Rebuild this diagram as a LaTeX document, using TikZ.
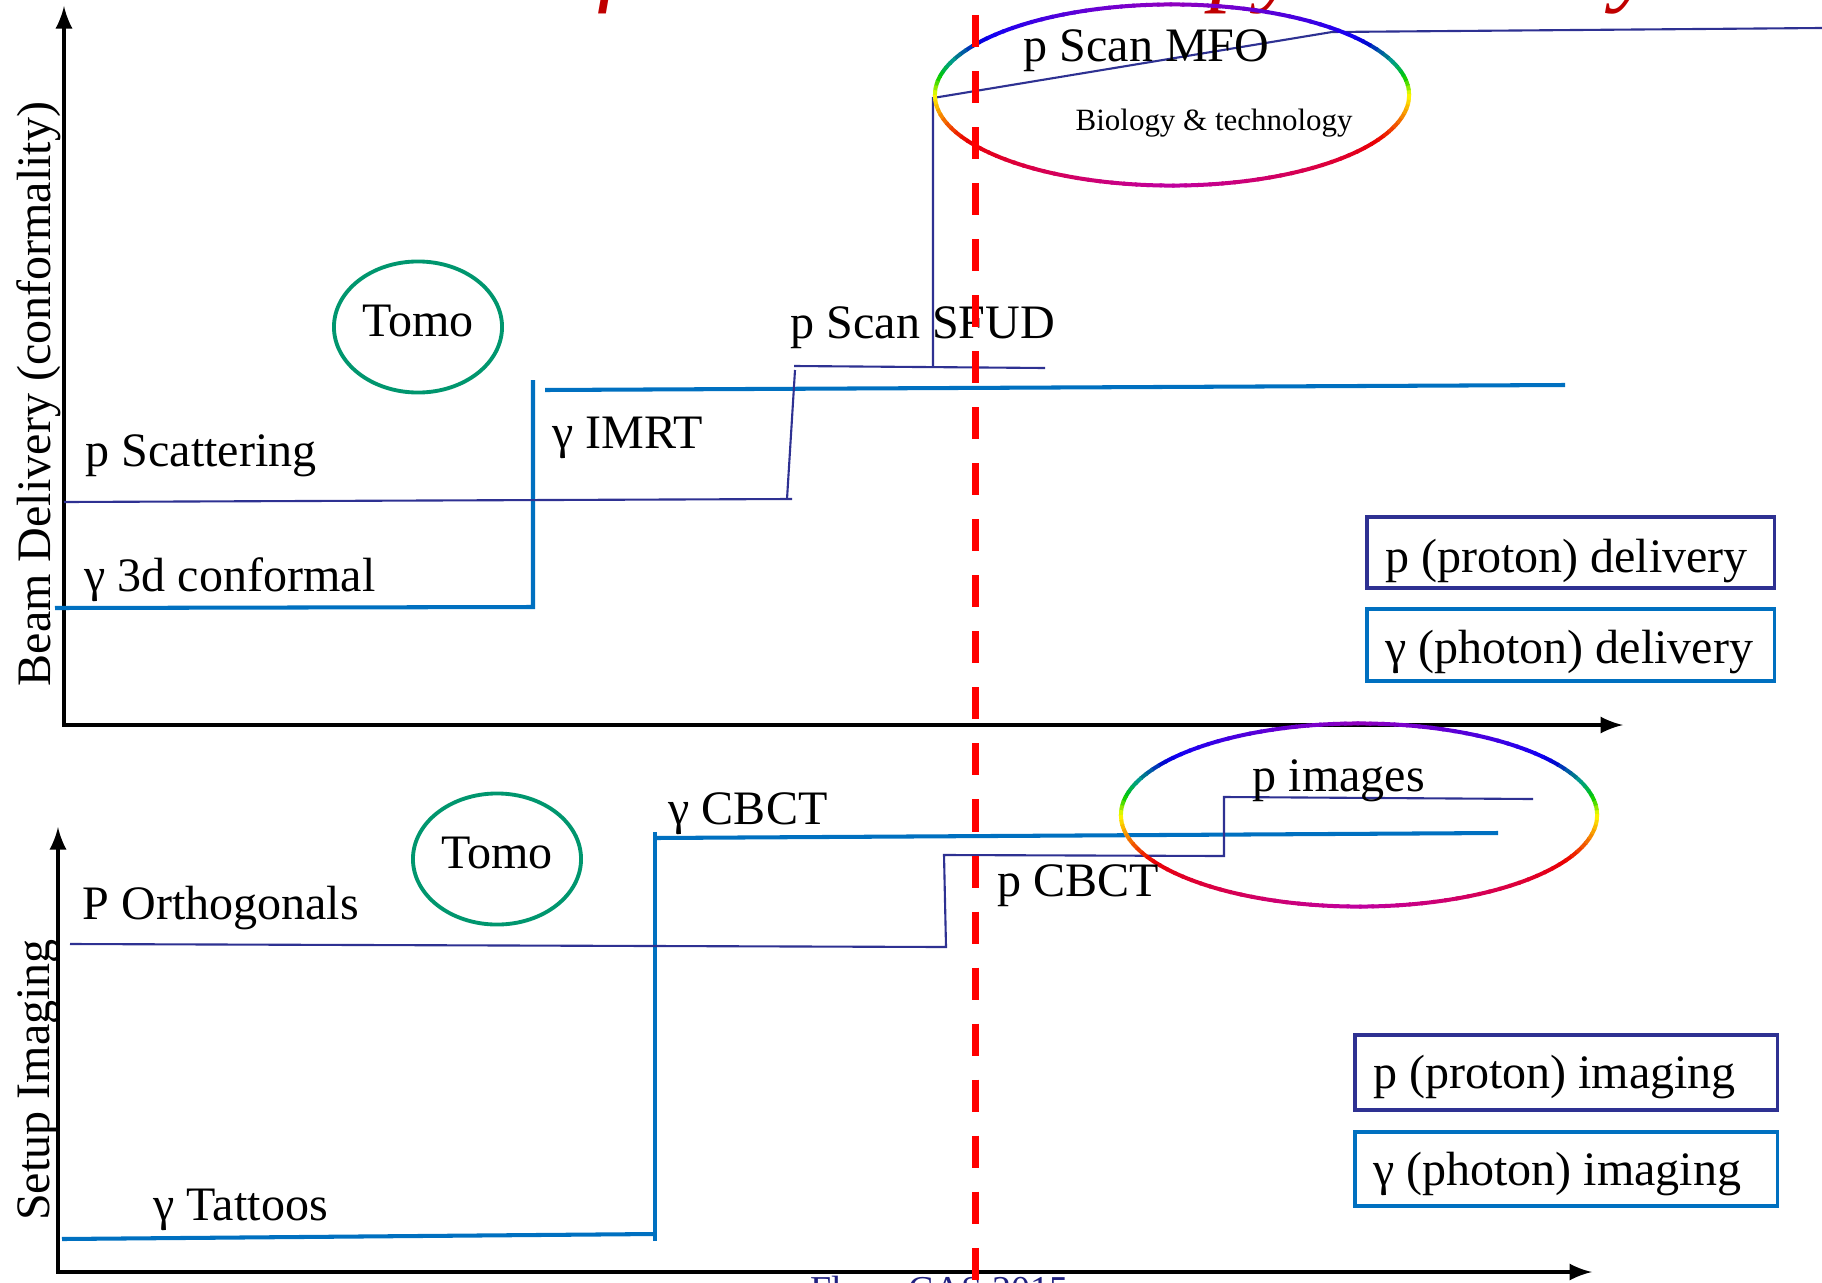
\documentclass[tikz,border=0pt]{standalone}
\usepackage{fontspec}
\setmainfont{Liberation Serif}
\usepackage{xcolor}
\usepackage{tikz}
\usetikzlibrary{shapes,arrows,positioning}
\definecolor{pblue}{RGB}{46,49,146}
\definecolor{gblue}{RGB}{0,112,192}
\definecolor{tomogreen}{RGB}{0,150,110}
\definecolor{titlered}{RGB}{192,0,0}
\definecolor{footblue}{RGB}{32,32,128}
\tikzstyle{axisline} = [draw, line width=1.2pt, -latex]
\tikzstyle{pline} = [draw, pblue, line width=0.6pt]
\tikzstyle{gline} = [draw, gblue, line width=1.15pt]
\tikzstyle{txt} = [inner sep=0pt, anchor=base west, font=\fontsize{13.66pt}{16pt}\selectfont]
\tikzstyle{tomo} = [ellipse, draw=tomogreen, line width=1.1pt, minimum width=1.68cm, minimum height=1.31cm, inner sep=0pt, text height=0.32cm, text depth=0.14cm, font=\fontsize{13.66pt}{16pt}\selectfont]
\tikzstyle{keybox} = [rectangle, draw, line width=1pt, anchor=north west, outer sep=0pt, inner xsep=0.18cm, inner ysep=0pt, font=\fontsize{13.66pt}{16pt}\selectfont]
\tikzstyle{headline} = [inner sep=0pt, anchor=base, font=\fontsize{27.3pt}{30pt}\selectfont\itshape]
\tikzstyle{milestone} = [draw, red, line width=2pt, dash pattern=on 0.32cm off 0.24cm]

\begin{document}
\begin{tikzpicture}[x=0.01cm, y=-0.01cm]
\useasboundingbox (0,0) rectangle (1822,1282);
\clip (0,0) rectangle (1822,1282);

% title, cut by the top edge
\node[headline, text=titlered] (title) at (904,-6) {Evolution of Particle Therapy Delivery};

% axes
\draw[axisline] (64,723) -- (64,6);
\draw[axisline] (62,725) -- (1623,725);
\draw[axisline] (58,1272) -- (58,827);
\draw[axisline] (56,1272) -- (1592,1272);

% delivery steps
\draw[gline] (55,608) -- (533,607) -- (533,380);
\draw[gline] (545,390) -- (1565,385);
\draw[pline] (64,502) -- (792,499);
\draw[pline] (787,499) -- (795,370);
\draw[pline] (794,366) -- (1045,368);
\draw[pline] (933,367) -- (933,98) -- (1332,32) -- (1822,28);

% imaging steps
\draw[gline] (62,1239) -- (655,1234);
\draw[gline] (655,1241) -- (655,832);
\draw[gline] (655,838) -- (1498,833);
\draw[pline] (70,944) -- (946,947) -- (944,855) -- (1224,856) -- (1224,797) -- (1533,799);

% rainbow ellipses
\coordinate (mfoc) at (1172,95);
\coordinate (imgc) at (1359,815);
\foreach \c/\rx/\ry in {mfoc/2.37cm/0.905cm, imgc/2.38cm/0.915cm}{
  \foreach \t in {0,3,...,357}{
    \pgfmathsetmacro{\e}{asin(sin(\t+1.5))}
    \pgfmathsetmacro{\h}{\e>35 ? 240+45*(\e-35)/55 : (\e>0 ? 60+180*\e/35 : (\e>-30 ? 60+2*\e : (\e+30)*5/6))}
    \pgfmathsetmacro{\hh}{mod(\h+360,360)}
    \pgfmathsetmacro{\bb}{\e>0 ? (\e<25 ? 1-0.45*\e/25 : (\e<40 ? 0.55+0.4*(\e-25)/15 : 0.95-0.2*(\e-40)/50)) : 1-0.25*abs(\e)/90}
    \definecolor{rbow}{Hsb}{\hh,1,\bb}
    \draw[rbow, line width=0.04cm] (\c) ++({\rx*cos(\t)},{\ry*sin(\t)}) arc[start angle=\t, end angle=\t+3.6, x radius=\rx, y radius=\ry];
  }
}

\node[tomo] (tomoA) at (418,327) {Tomo};
\node[tomo] (tomoB) at (497,859) {Tomo};

% labels
\node[txt] (pscat) at (85,466) {p Scattering};
\node[txt] (gconf) at (84,591) {γ 3d conformal};
\node[txt] (gimrt) at (552,448) {γ IMRT};
\node[txt] (psfud) at (790,338) {p Scan SFUD};
\node[txt] (pmfo) at (1023,62) {p Scan MFO};
\node[txt, font=\fontsize{8.8pt}{10pt}\selectfont] (bio) at (1075,130) {Biology \& technology};
\node[txt] (porth) at (82,919) {P Orthogonals};
\node[txt] (gtat) at (153,1220) {γ Tattoos};
\node[txt] (gcbct) at (668,824) {γ CBCT};
\node[txt] (pcbct) at (997,896) {p CBCT};
\node[txt] (pimg) at (1252,791) {p images};

\node[txt, anchor=base, rotate=90] (ylabA) at (51,394) {Beam Delivery (conformality)};
\node[txt, anchor=base, rotate=90] (ylabB) at (49,1080) {Setup Imaging};

% key
\node[keybox, draw=pblue, text height=0.55cm, text depth=0.16cm] (keypd) at (1367,517) {\makebox[3.71cm][l]{p (proton) delivery}};
\node[keybox, draw=gblue, text height=0.54cm, text depth=0.18cm] (keygd) at (1367,609) {\makebox[3.71cm][l]{γ (photon) delivery}};
\node[keybox, draw=pblue, text height=0.53cm, text depth=0.22cm] (keypi) at (1355,1035) {\makebox[3.86cm][l]{p (proton) imaging}};
\node[keybox, draw=gblue, text height=0.53cm, text depth=0.21cm] (keygi) at (1355,1132) {\makebox[3.86cm][l]{γ (photon) imaging}};

\node[txt, text=footblue, font=\fontsize{10.8pt}{12pt}\selectfont] (foot) at (810,1302) {Flynn CAS 2015};

% today
\draw[milestone] (975,15) -- (975,1290);
\end{tikzpicture}
\end{document}
